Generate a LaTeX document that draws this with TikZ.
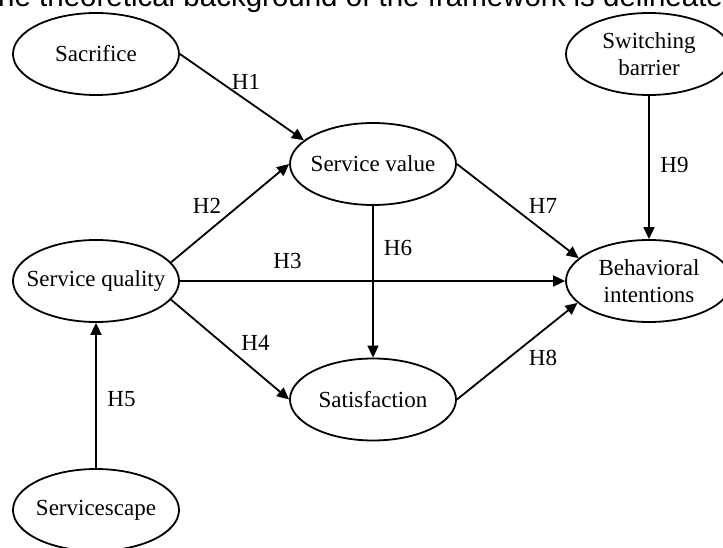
\documentclass[tikz,border=0pt]{standalone}
\usepackage{fontspec}
\setmainfont{Liberation Serif}
\newfontfamily\capfont{Liberation Sans}
\usepackage{tikz}
\usetikzlibrary{arrows.meta,shapes.geometric}

\begin{document}
\begin{tikzpicture}[x=1pt,y=-1pt,
  construct/.style={draw,ellipse,line width=1.8pt,minimum width=166pt,minimum height=82pt,inner xsep=-45pt,inner ysep=0pt,align=center,font=\fontsize{23}{27}\selectfont},
  hyp/.style={inner sep=0pt,font=\fontsize{23}{27}\selectfont},
  link/.style={line width=1.8pt,-{Triangle[length=12pt,width=11pt]}}]
  \useasboundingbox (0,0) rectangle (723,548);
  \clip (0,0) rectangle (723,548); %只显示截取的区域
  \node[anchor=base west,inner sep=0pt,font=\capfont\fontsize{29.5}{34}\selectfont] (caption) at (-20,7) {The theoretical background of the framework is delineated};
  \node[construct] (sac) at (96,54) {Sacrifice};
  \node[construct] (sb) at (649,54) {Switching\\barrier};
  \node[construct] (sv) at (373,164) {Service value};
  \node[construct] (sq) at (96,281) {Service quality};
  \node[construct] (bi) at (649,281) {Behavioral\\intentions};
  \node[construct] (sat) at (373,399.5) {Satisfaction};
  \node[construct] (ss) at (96,510) {Servicescape};
  \draw[link] (sac.east) -- (sv.161);
  \draw[link] (sq.14) -- (sv.west);
  \draw[link] (sq.east) -- (bi.west);
  \draw[link] (sq.-14) -- (sat.west);
  \draw[link] (ss.north) -- (sq.south);
  \draw[link] (sv.south) -- (sat.north);
  \draw[link] (sv.east) -- (bi.162);
  \draw[link] (sat.east) -- (bi.197);
  \draw[link] (sb.south) -- (bi.north);
  %假设标签
  \node[hyp] (h1) at (246,82) {H1};
  \node[hyp] (h2) at (207,206) {H2};
  \node[hyp] (h3) at (287.5,261) {H3};
  \node[hyp] (h4) at (255.5,343) {H4};
  \node[hyp] (h5) at (121.5,399.5) {H5};
  \node[hyp] (h6) at (398,248) {H6};
  \node[hyp] (h7) at (543,206) {H7};
  \node[hyp] (h8) at (543,358) {H8};
  \node[hyp] (h9) at (674.5,165) {H9};
\end{tikzpicture}
\end{document}
